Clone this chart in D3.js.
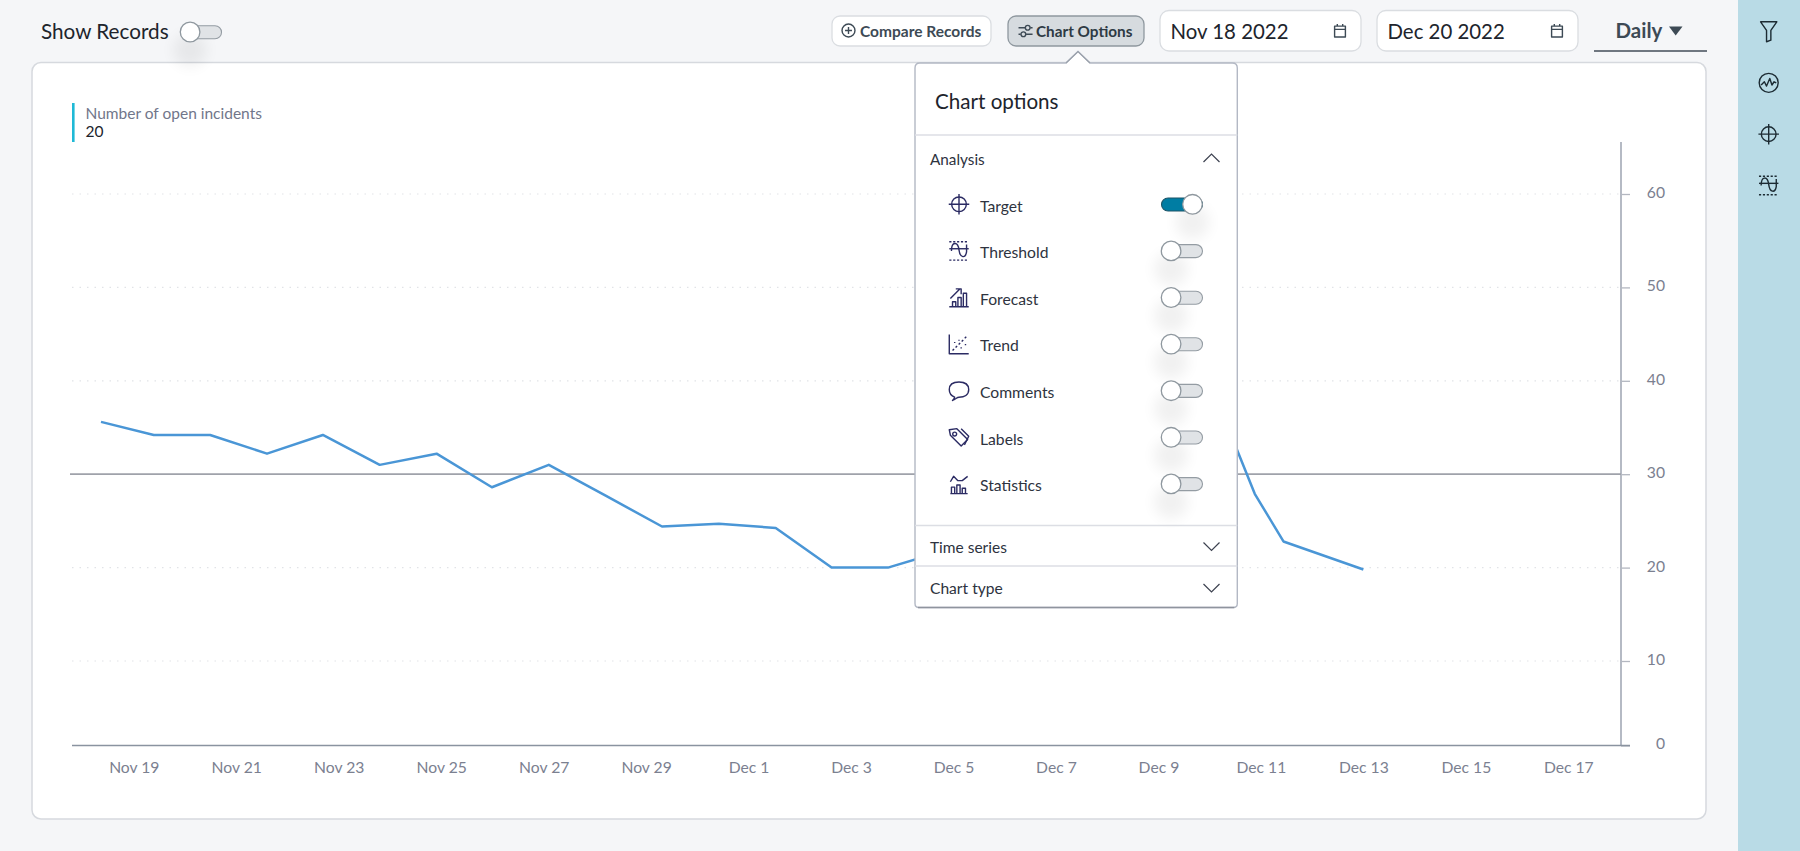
<!DOCTYPE html>
<html><head><meta charset="utf-8">
<script src="https://cdnjs.cloudflare.com/ajax/libs/d3/7.8.5/d3.min.js"></script>
<style>html,body{margin:0;padding:0;background:#f5f6f8;overflow:hidden}svg{display:block}text{font-family:Lato,sans-serif}</style>
</head><body><svg id="c" width="1800" height="851"></svg>
<script>
// ---- data ----
const dayOffsets = [-0.64,0.39,1.49,2.60,3.69,4.80,5.91,6.99,8.10,9.21,10.31,11.42,12.53,13.62,14.72,15.82,21.38,21.88,22.44,24.0];
const openIncidents = [35.6,34.2,34.2,32.2,34.2,31.0,32.2,28.6,31.0,27.7,24.4,24.7,24.25,20,20,21.8,34.7,27.9,22.8,19.8];
const targetValue = 30;
const xTickDays = [0,2,4,6,8,10,12,14,16,18,20,22,24,26,28];
const xTickLabels = ["Nov 19","Nov 21","Nov 23","Nov 25","Nov 27","Nov 29","Dec 1","Dec 3","Dec 5","Dec 7","Dec 9","Dec 11","Dec 13","Dec 15","Dec 17"];
const yTicks = [0,10,20,30,40,50,60];
const yKnots = [0,10,60,65.6];
const optionRows = ["Target","Threshold","Forecast","Trend","Comments","Labels","Statistics"];
const optionStates = [true,false,false,false,false,false,false];
const optionIcons = ["target","threshold","forecast","trend","comments","labels","statistics"];
const sideIcons = ["funnel","pulse","target","threshold"];
const legendLabel = "Number of open incidents";
const legendValue = "20";
const startDate = "Nov 18 2022", endDate = "Dec 20 2022";

const svg = d3.select("#c");
const defs = svg.append("defs");
defs.append("filter").attr("id","blur").attr("x","-100%").attr("y","-100%").attr("width","300%").attr("height","300%")
  .append("feGaussianBlur").attr("stdDeviation",7);

const T = (g,x,y,s,size,fill,weight,anchor)=>g.append("text").attr("x",x).attr("y",y).text(s)
  .attr("font-size",size).attr("fill",fill).attr("font-weight",weight||400).attr("text-anchor",anchor||"start");

// card
svg.append("rect").attr("x",32).attr("y",62.5).attr("width",1674).attr("height",756.5).attr("rx",9)
  .attr("fill","#fff").attr("stroke","#d6d9de").attr("stroke-width",1.5);
// sidebar
svg.append("rect").attr("x",1738).attr("y",0).attr("width",62).attr("height",851).attr("fill","#b9dbe6");

// scales
const x = d3.scaleLinear().domain([0,28]).range([133.8,1568.3]);
const y = d3.scaleLinear().domain(yKnots).range([745.5,661,194,142]);
const plotL = 72, plotR = 1621;

// grid
const grid = svg.append("g");
grid.selectAll("line").data(yTicks.filter(d=>d>0 && d!==targetValue)).join("line")
  .attr("x1",plotL).attr("x2",plotR).attr("y1",d=>y(d)).attr("y2",d=>y(d))
  .attr("stroke","#e1e3e7").attr("stroke-width",1.2).attr("stroke-dasharray","1.5 6");

// y axis
const yAxis = svg.append("g").attr("transform",`translate(${plotR},0)`)
  .call(d3.axisRight(y).tickValues(yTicks).tickSize(9).tickPadding(27).tickFormat(d3.format("d")));
yAxis.select(".domain").remove();
yAxis.selectAll(".tick line").attr("stroke","#b3b7c0").attr("stroke-width",1.3);
yAxis.selectAll(".tick text").attr("text-anchor","end").attr("x",44).attr("dy","0.22em")
  .attr("font-family","Lato,sans-serif").attr("font-size",15.7).attr("fill","#7b8090");
svg.append("line").attr("x1",plotR).attr("x2",plotR).attr("y1",y(65.6)).attr("y2",y(0))
  .attr("stroke","#b5bac4").attr("stroke-width",2);

// x axis
const xAxis = svg.append("g").attr("transform",`translate(0,${y(0)})`)
  .call(d3.axisBottom(x).tickValues(xTickDays).tickSize(0).tickPadding(16)
    .tickFormat((d,i)=>xTickLabels[i]));
xAxis.select(".domain").remove();
xAxis.selectAll(".tick text").attr("font-family","Lato,sans-serif").attr("font-size",15.7).attr("fill","#7b8090");
svg.append("line").attr("x1",plotL).attr("x2",plotR+9).attr("y1",y(0)).attr("y2",y(0))
  .attr("stroke","#8a93a0").attr("stroke-width",1.5);

// target line
svg.append("line").attr("x1",70).attr("x2",plotR).attr("y1",y(targetValue)).attr("y2",y(targetValue))
  .attr("stroke","#9fa2aa").attr("stroke-width",1.8);

// series
svg.append("path").datum(dayOffsets.map((d,i)=>[d,openIncidents[i]]))
  .attr("fill","none").attr("stroke","#4a96d6").attr("stroke-width",2.5).attr("stroke-linejoin","round")
  .attr("d",d3.line().x(d=>x(d[0])).y(d=>y(d[1])));

// legend
svg.append("rect").attr("x",72).attr("y",103).attr("width",2.6).attr("height",39).attr("fill","#1fb9d6");
T(svg,85.5,119,legendLabel,15.5,"#71768a");
T(svg,85.5,137,legendValue,15.5,"#20242c");

// icon library
function icon(g,name,cx,cy,col){
  const i=g.append("g").attr("transform",`translate(${cx},${cy}) scale(1.08)`).attr("fill","none").attr("stroke",col).attr("stroke-width",1.3)
    .attr("stroke-linejoin","round");
  const P=(d,extra)=>{const p=i.append("path").attr("d",d);if(extra)Object.entries(extra).forEach(([k,v])=>p.attr(k,v));return p;};
  if(name==="target"){i.append("circle").attr("r",6.8);P("M-9.5 0H9.5M0-9.5V9.5");}
  if(name==="threshold"){P("M-9-8.5H9M-9 8.5H9",{"stroke-dasharray":"2 1.6"});P("M-9 -2H9");P("M-7 0C-7-9-1-9 0-1C1 7 6 7 7 1V-6");}
  if(name==="forecast"){P("M-9 8.5H9M-6 8.5V4H-3V8.5M-1 8.5V0H2V8.5M4 8.5V-4H7V8.5M-8 1L1-8M-3-8H2V-3");}
  if(name==="trend"){P("M-9-9V9H9");P("M-6 6L7-7",{"stroke-dasharray":"2 2"});P("M-4-2v1M0-4v1M2 3v1M6 0v1");}
  if(name==="comments"){P("M-6 9C-4 7-4 6-4 6C-7 5-9 2-9-1C-9-6-5-8 0-8C5-8 9-6 9-1C9 4 5 6 0 6C-2 6-3 8-6 9Z");}
  if(name==="labels"){P("M-9-7L-2-8L8 2L2 8L-8-2Z");i.append("circle").attr("cx",-4).attr("cy",-3).attr("r",1.8);P("M2-8L9-1L5 7");}
  if(name==="statistics"){P("M-8 9H8M-7 9V3H-4V9M-2 9V1H1V9M3 9V4H6V9M-8-2L-5-7L-1-3L3-3L8-7");}
  if(name==="funnel"){P("M-7.5-9H7.5L2-1V8L-2 9.5V-1Z");}
  if(name==="pulse"){i.append("circle").attr("r",8.8);P("M-7 2L-4-1L-2 3L1-4L3 2L5-1L7 0");}
  if(name==="plus"){i.append("circle").attr("r",6);P("M-3.2 0H3.2M0-3.2V3.2");}
  if(name==="sliders"){P("M-6-3H0M5-3H7M-6 3H-4M1 3H7");i.append("circle").attr("cx",2.5).attr("cy",-3).attr("r",2.2);i.append("circle").attr("cx",-1.5).attr("cy",3).attr("r",2.2);}
  if(name==="calendar"){P("M-5-4.5H5V5.5H-5ZM-5-1.5H5M-2.5-6.5V-4.5M2.5-6.5V-4.5");}
  return i;
}

// shadow + toggle
function toggle(g,left,cy,on){
  const knob = on? left+31 : left+9.6;
  g.append("circle").attr("cx",knob).attr("cy",cy+18).attr("r",17).attr("fill","#000").attr("opacity",.055).attr("filter","url(#blur)");
  g.append("rect").attr("x",left).attr("y",cy-6.3).attr("width",41).attr("height",13).attr("rx",6.5)
    .attr("fill",on?"#007da3":"#e0e3e6").attr("stroke",on?"#1d5568":"#949ca3").attr("stroke-width",1.1);
  g.append("circle").attr("cx",knob).attr("cy",cy).attr("r",9.8).attr("fill","#fff").attr("stroke","#8f989f").attr("stroke-width",1.3);
}

// top bar
T(svg,41,39,"Show Records",20.7,"#20242c");
toggle(svg,180.5,32,false);

svg.append("rect").attr("x",832).attr("y",16).attr("width",159).attr("height",30).attr("rx",8).attr("fill","#fff").attr("stroke","#dadde1").attr("stroke-width",1.3);
icon(svg,"plus",848.5,30.5,"#3d4a55");
T(svg,860,36.5,"Compare Records",15.5,"#3d4a55",700);
svg.append("rect").attr("x",1008).attr("y",16).attr("width",136).attr("height",30).attr("rx",8).attr("fill","#d6dbdf").attr("stroke","#8f989f").attr("stroke-width",1.3);
icon(svg,"sliders",1025,31,"#3d4a55");
T(svg,1036,36.5,"Chart Options",15.3,"#2e3a44",700);

[[1160,startDate],[1377,endDate]].forEach(([l,s])=>{
  svg.append("rect").attr("x",l).attr("y",10.5).attr("width",201).attr("height",40.5).attr("rx",9).attr("fill","#fff").attr("stroke","#dadde1").attr("stroke-width",1.3);
  T(svg,l+10.5,39,s,20.4,"#20242c");
  icon(svg,"calendar",l+180,31,"#3d4a55");
});
T(svg,1615.5,38,"Daily",20.5,"#3d4a55",700);
svg.append("path").attr("d",d3.line()([[1669,26.5],[1682.5,26.5],[1675.7,35.5]])).attr("fill","#3d4a55");
svg.append("line").attr("x1",1594).attr("x2",1707).attr("y1",51).attr("y2",51).attr("stroke","#6f7780").attr("stroke-width",2);

// side icons
const sideY = d3.scalePoint().domain(sideIcons).range([31.5,185.5]);
sideIcons.forEach(n=>icon(svg,n,1768.7,sideY(n),"#1c2b33"));

// popup
const pop = svg.append("g");
const pL=915,pR=1237.3,pT=63,pB=607.5,cx=1078;
pop.append("path").attr("d",`M${pL} ${pT+5}Q${pL} ${pT} ${pL+5} ${pT}H${cx-12}L${cx} 51.5L${cx+12} ${pT}H${pR-5}Q${pR} ${pT} ${pR} ${pT+5}V${pB-4}Q${pR} ${pB} ${pR-4} ${pB}H${pL+4}Q${pL} ${pB} ${pL} ${pB-4}Z`)
  .attr("fill","#fff").attr("stroke","#b3b8c4").attr("stroke-width",1.4);
pop.append("path").attr("d",`M${pL+3} ${pB}H${pR-3}`).attr("stroke","#8f949e").attr("stroke-width",1.6);
pop.append("path").attr("d",`M${cx-12} ${pT}L${cx} 51.5L${cx+12} ${pT}`).attr("fill","none").attr("stroke","#9aa1ab").attr("stroke-width",1.2);
T(pop,935,108.5,"Chart options",20.6,"#20242c");
[135,525.5,566].forEach(v=>pop.append("line").attr("x1",pL).attr("x2",pR).attr("y1",v).attr("y2",v).attr("stroke","#dcdee4").attr("stroke-width",1.6));
const chevron=(cy,up)=>pop.append("path").attr("d",up?`M1203.5 ${cy+4}L1211.5 ${cy-4}L1219.5 ${cy+4}`:`M1203.5 ${cy-4}L1211.5 ${cy+4}L1219.5 ${cy-4}`)
  .attr("fill","none").attr("stroke","#3d4250").attr("stroke-width",1.2);
T(pop,930,164.5,"Analysis",15.3,"#2e3340"); chevron(158,true);
T(pop,930,552.5,"Time series",15.5,"#2e3340"); chevron(546.5,false);
T(pop,930,593.5,"Chart type",15.6,"#2e3340"); chevron(588,false);
const rowY = d3.scalePoint().domain(optionRows).range([204.3,483.9]);
optionRows.forEach((r,i)=>{
  const cy=rowY(r);
  icon(pop,optionIcons[i],959,cy,"#2b2b63");
  T(pop,980,cy+7.2,r,15.7,"#2e3340");
  toggle(pop,1161.5,cy,optionStates[i]);
});
</script></body></html>
